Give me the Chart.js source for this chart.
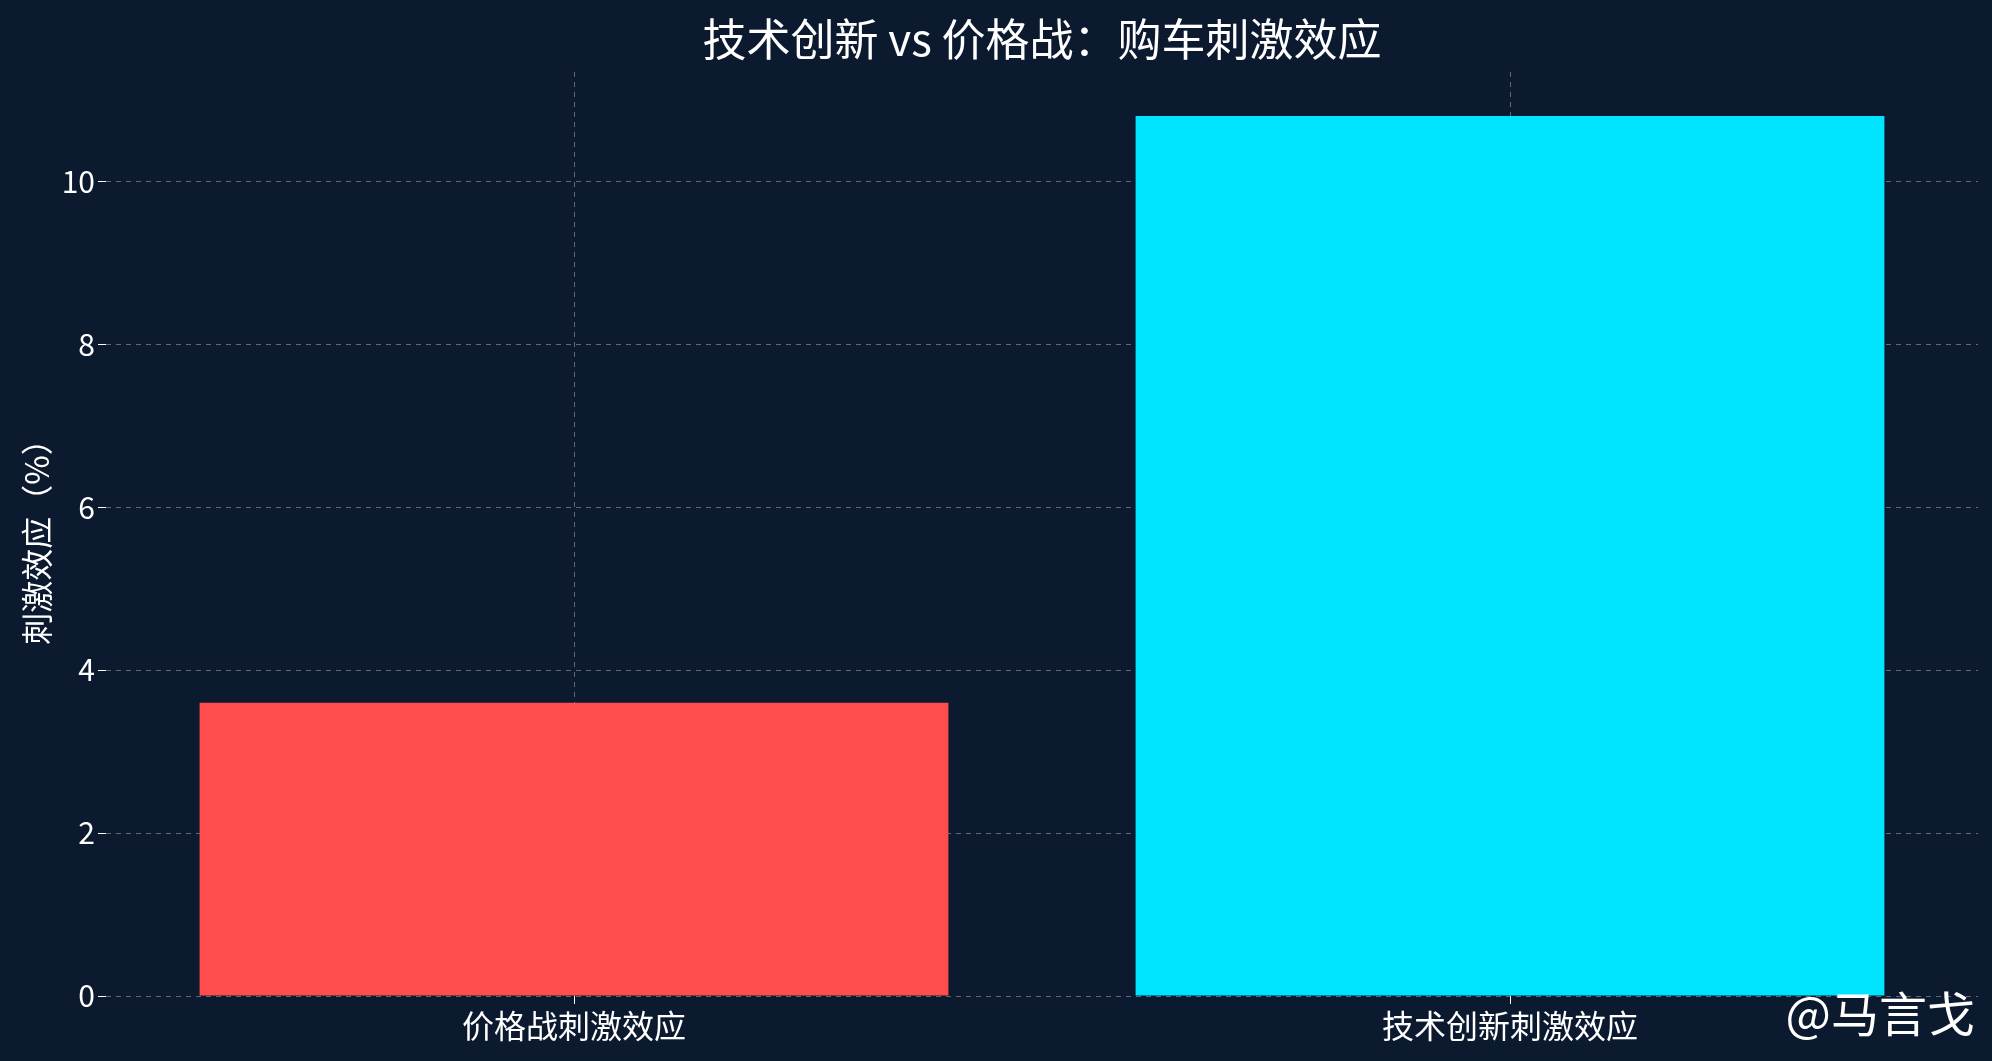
<!DOCTYPE html>
<html>
<head>
<meta charset="utf-8">
<script src="https://cdn.jsdelivr.net/npm/chart.js@4"></script>
<style>
html, body { margin: 0; padding: 0; background: #0c1a30; }
#wrap { width: 1992px; height: 1061px; }
</style>
</head>
<body>
<div id="wrap"><canvas id="c" width="1992" height="1061"></canvas></div>
<script>
var categories = ["价格战刺激效应", "技术创新刺激效应"];
var effectValues = [3.6, 10.8];
var barColors = ["#ff4d4d", "#00e5ff"];
var yTicks = [0, 2, 4, 6, 8, 10];

var fontName = "'Noto Sans CJK SC', 'Noto Sans', sans-serif";

var extraText = {
    id: 'extraText',
    afterDraw: function (chart) {
        var ctx = chart.ctx;
        ctx.save();
        ctx.fillStyle = '#ffffff';
        ctx.textAlign = 'center';
        ctx.textBaseline = 'middle';
        ctx.font = '44px ' + fontName;
        ctx.fillText('技术创新 vs 价格战：购车刺激效应', 1042, 39);
        ctx.font = '48px ' + fontName;
        ctx.textAlign = 'right';
        ctx.fillText('@马言戈', 1975, 1014);
        ctx.restore();
    }
};

var ctx = document.getElementById("c");
var myChart = new Chart(ctx, {
    type: 'bar',
    data: {
        labels: categories,
        datasets: [{
            data: effectValues,
            backgroundColor: barColors,
            barPercentage: 0.8,
            categoryPercentage: 1.0
        }]
    },
    options: {
        responsive: false,
        animation: false,
        layout: { padding: { top: 72, right: 14, left: 14, bottom: 0 } },
        plugins: { legend: { display: false }, title: { display: false }, tooltip: { enabled: false } },
        scales: {
            x: {
                grid: { offset: false, color: 'rgba(200,200,200,0.45)', tickColor: '#ffffff', tickLength: 8 },
                border: { display: false, dash: [5, 5] },
                ticks: { color: '#ffffff', font: { size: 32, family: fontName } },
                afterFit: function (s) { s.height = 65; }
            },
            y: {
                min: 0,
                max: 11.34,
                afterBuildTicks: function (s) { s.ticks = yTicks.map(function (v) { return { value: v }; }); },
                grid: { color: 'rgba(200,200,200,0.45)', tickColor: '#ffffff', tickLength: 8 },
                border: { display: false, dash: [5, 5] },
                ticks: { color: '#ffffff', font: { size: 30, family: fontName } },
                title: { display: true, text: '刺激效应（%）', color: '#ffffff', font: { size: 32, family: fontName } },
                afterFit: function (s) { s.width = 92; }
            }
        }
    },
    plugins: [extraText]
});
</script>
</body>
</html>
